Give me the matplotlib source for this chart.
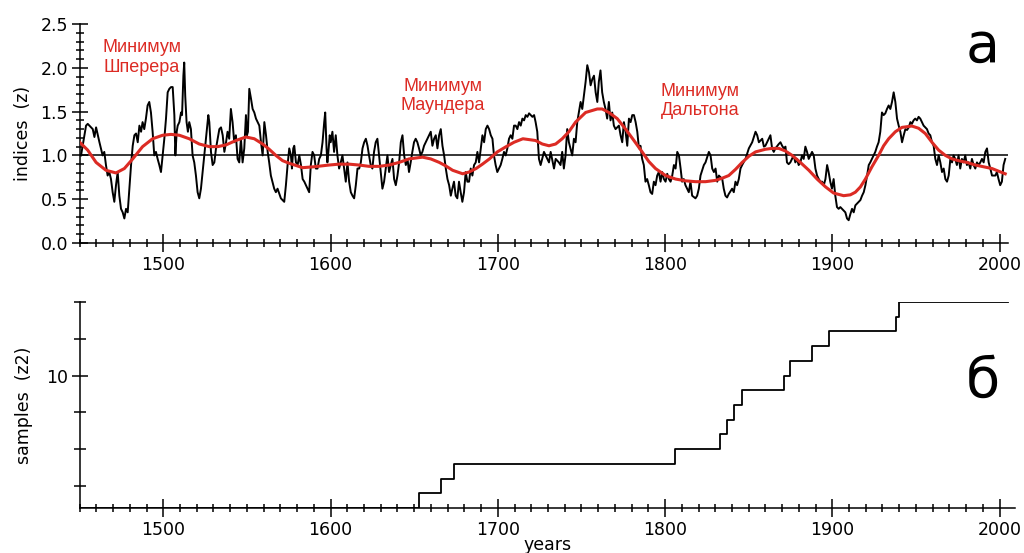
import matplotlib
matplotlib.use("Agg")
import matplotlib.pyplot as plt
from matplotlib.ticker import MultipleLocator, FormatStrFormatter

# ---- panel a: solar activity index (annual, black) ----
index_years = [
    1450.8, 1453.8, 1454.8, 1456.8, 1457.8, 1458.8, 1459.8, 1461.8, 1462.7, 1463.7,
    1464.7, 1465.7, 1466.7, 1467.7, 1468.7, 1469.7, 1470.7, 1471.7, 1472.7, 1473.7,
    1474.7, 1475.7, 1476.7, 1477.7, 1478.7, 1479.7, 1480.7, 1481.7, 1482.7, 1483.7,
    1484.7, 1485.7, 1486.7, 1487.6, 1488.6, 1489.6, 1490.6, 1491.6, 1492.6, 1493.6,
    1494.6, 1495.6, 1496.6, 1497.6, 1498.6, 1499.6, 1500.6, 1501.6, 1502.6, 1503.6,
    1504.6, 1505.6, 1506.6, 1507.2, 1508.0, 1508.6, 1509.6, 1510.6, 1511.2, 1512.0,
    1512.5, 1513.1, 1513.9, 1514.7, 1515.5, 1516.5, 1517.5, 1518.5, 1519.5, 1520.5,
    1521.5, 1522.5, 1523.5, 1524.5, 1525.5, 1526.9, 1527.5, 1528.5, 1529.5, 1530.5,
    1531.5, 1532.5, 1533.5, 1534.5, 1535.5, 1536.5, 1537.5, 1538.4, 1539.4, 1540.4,
    1541.4, 1542.4, 1543.4, 1544.4, 1545.4, 1546.4, 1547.4, 1548.4, 1549.4, 1550.0,
    1550.6, 1551.4, 1552.4, 1553.4, 1554.4, 1555.4, 1556.4, 1557.4, 1558.4, 1559.4,
    1560.4, 1561.4, 1562.4, 1563.3, 1564.3, 1566.3, 1567.3, 1568.3, 1570.3, 1572.3,
    1573.3, 1574.3, 1575.3, 1576.3, 1576.9, 1577.7, 1578.3, 1579.3, 1580.3, 1581.3,
    1582.3, 1583.3, 1584.3, 1586.2, 1587.2, 1588.2, 1589.2, 1590.2, 1591.2, 1592.2,
    1593.2, 1594.2, 1595.2, 1596.2, 1596.8, 1597.6, 1598.1, 1598.7, 1599.5, 1600.1,
    1601.1, 1602.1, 1603.1, 1604.1, 1605.1, 1606.1, 1607.1, 1608.1, 1609.1, 1610.1,
    1611.1, 1612.1, 1613.1, 1614.1, 1615.1, 1616.1, 1617.1, 1618.1, 1619.1, 1620.1,
    1621.1, 1622.1, 1623.0, 1624.0, 1625.0, 1626.0, 1627.0, 1628.0, 1629.0, 1630.0,
    1631.0, 1632.0, 1633.0, 1634.0, 1635.0, 1636.0, 1637.0, 1638.0, 1639.0, 1640.0,
    1641.0, 1642.0, 1643.0, 1644.0, 1645.0, 1646.0, 1646.9, 1647.9, 1648.9, 1649.9,
    1650.9, 1651.9, 1652.9, 1653.9, 1654.9, 1655.9, 1656.9, 1657.9, 1658.9, 1659.9,
    1660.9, 1661.9, 1662.9, 1663.9, 1664.9, 1665.9, 1666.9, 1667.9, 1668.9, 1669.9,
    1670.9, 1671.9, 1672.8, 1673.8, 1674.8, 1675.8, 1676.8, 1677.8, 1678.8, 1679.8,
    1680.8, 1681.8, 1682.8, 1683.8, 1684.8, 1685.8, 1686.8, 1687.8, 1688.8, 1689.8,
    1690.8, 1691.8, 1692.8, 1693.8, 1694.8, 1695.8, 1696.8, 1697.7, 1698.7, 1699.7,
    1700.7, 1701.7, 1702.7, 1703.7, 1704.7, 1705.7, 1706.7, 1707.7, 1708.7, 1709.7,
    1710.7, 1711.7, 1712.7, 1713.7, 1714.7, 1715.7, 1716.7, 1717.7, 1718.7, 1719.7,
    1720.7, 1721.7, 1722.6, 1723.6, 1724.6, 1725.6, 1727.6, 1728.6, 1730.6, 1731.6,
    1733.6, 1734.6, 1736.5, 1737.5, 1738.5, 1739.5, 1740.5, 1741.5, 1742.5, 1744.5,
    1745.5, 1746.5, 1747.5, 1749.5, 1750.5, 1752.5, 1753.5, 1754.5, 1755.5, 1756.5,
    1757.5, 1758.5, 1759.5, 1760.4, 1761.4, 1762.4, 1763.4, 1764.4, 1765.4, 1766.4,
    1767.4, 1768.4, 1769.4, 1770.4, 1772.4, 1773.4, 1774.4, 1775.4, 1776.4, 1777.4,
    1778.4, 1779.4, 1780.4, 1781.4, 1782.4, 1783.4, 1784.4, 1785.3, 1786.3, 1787.3,
    1788.3, 1789.3, 1790.3, 1791.3, 1792.3, 1793.3, 1794.3, 1795.3, 1796.3, 1797.3,
    1798.3, 1799.3, 1800.3, 1801.3, 1802.3, 1803.3, 1804.3, 1805.3, 1806.3, 1807.3,
    1808.3, 1809.3, 1810.2, 1811.2, 1812.2, 1813.2, 1814.2, 1815.2, 1816.2, 1818.2,
    1819.2, 1820.2, 1821.2, 1823.2, 1824.2, 1826.2, 1827.2, 1828.2, 1829.2, 1830.2,
    1831.2, 1832.2, 1834.2, 1835.1, 1836.1, 1837.1, 1838.1, 1840.1, 1841.1, 1842.1,
    1843.1, 1844.1, 1845.1, 1846.1, 1848.1, 1850.1, 1852.1, 1854.1, 1855.1, 1856.1,
    1858.1, 1859.1, 1860.0, 1862.0, 1863.0, 1864.0, 1865.0, 1866.0, 1868.0, 1869.0,
    1870.0, 1871.0, 1872.0, 1872.9, 1873.9, 1874.9, 1875.9, 1876.9, 1877.9, 1878.9,
    1879.9, 1880.9, 1881.9, 1882.9, 1883.9, 1884.9, 1885.9, 1886.9, 1887.9, 1888.9,
    1889.9, 1890.9, 1891.9, 1892.9, 1893.9, 1894.9, 1895.9, 1896.9, 1897.8, 1898.8,
    1899.8, 1900.8, 1901.8, 1902.8, 1903.8, 1904.8, 1905.8, 1906.8, 1907.8, 1908.8,
    1909.8, 1910.8, 1911.8, 1912.8, 1913.8, 1914.8, 1915.8, 1916.8, 1917.8, 1918.8,
    1919.8, 1920.8, 1921.8, 1922.7, 1923.7, 1924.7, 1925.7, 1926.7, 1927.7, 1928.7,
    1929.7, 1930.7, 1931.7, 1932.7, 1933.7, 1934.7, 1935.7, 1936.7, 1937.7, 1938.7,
    1939.7, 1940.7, 1941.7, 1942.7, 1943.7, 1944.7, 1945.7, 1946.7, 1947.6, 1948.6,
    1949.6, 1950.6, 1951.6, 1952.6, 1953.6, 1954.6, 1955.6, 1956.6, 1957.6, 1958.6,
    1959.6, 1960.6, 1961.6, 1962.6, 1963.6, 1964.6, 1965.6, 1966.6, 1967.6, 1968.6,
    1969.6, 1970.6, 1971.6, 1972.5, 1973.5, 1974.5, 1975.5, 1976.5, 1977.5, 1978.5,
    1979.5, 1980.5, 1981.5, 1982.5, 1983.5, 1984.5, 1985.5, 1986.5, 1987.5, 1988.5,
    1989.5, 1990.5, 1991.5, 1992.5, 1993.5, 1994.5, 1995.5, 1996.5, 1997.5, 1998.4,
    1999.4, 2000.4, 2001.4, 2002.4, 2003.4,
]
index_values = [
    1.00, 1.34, 1.36, 1.32, 1.30, 1.21, 1.32, 1.15, 1.08, 1.00,
    1.04, 0.89, 0.77, 0.81, 0.73, 0.58, 0.47, 0.66, 0.81, 0.54,
    0.39, 0.35, 0.28, 0.39, 0.35, 0.62, 0.89, 1.11, 1.23, 1.25,
    1.15, 1.34, 1.27, 1.38, 1.30, 1.42, 1.57, 1.61, 1.49, 1.27,
    1.00, 1.04, 0.96, 0.89, 0.81, 1.00, 1.19, 1.42, 1.72, 1.76,
    1.78, 1.78, 1.46, 1.00, 1.27, 1.34, 1.38, 1.49, 1.46, 1.91,
    2.06, 1.68, 1.38, 1.27, 1.38, 1.30, 1.00, 0.92, 0.77, 0.58,
    0.51, 0.62, 0.81, 1.00, 1.19, 1.46, 1.38, 1.04, 0.89, 0.92,
    1.08, 1.19, 1.30, 1.32, 1.23, 1.04, 1.15, 1.27, 1.19, 1.53,
    1.38, 1.15, 1.23, 0.96, 0.92, 1.19, 0.92, 1.08, 1.46, 1.23,
    1.27, 1.76, 1.65, 1.53, 1.49, 1.42, 1.38, 1.34, 1.15, 1.00,
    1.38, 1.23, 1.04, 0.92, 0.77, 0.62, 0.58, 0.62, 0.51, 0.47,
    0.66, 0.89, 1.08, 1.00, 0.85, 1.08, 1.11, 0.92, 0.89, 1.00,
    0.89, 0.73, 0.70, 0.62, 0.58, 0.89, 1.04, 1.00, 0.85, 0.85,
    0.96, 1.00, 1.15, 1.38, 1.49, 1.08, 0.92, 1.04, 1.23, 1.15,
    1.27, 1.04, 1.23, 1.00, 0.85, 0.92, 1.00, 0.85, 0.70, 0.92,
    0.70, 0.58, 0.54, 0.51, 0.66, 0.85, 0.85, 0.92, 1.08, 1.15,
    1.19, 1.11, 1.00, 0.89, 0.85, 1.04, 1.15, 1.19, 1.00, 0.81,
    0.62, 0.70, 0.85, 1.00, 0.81, 0.89, 0.96, 0.73, 0.66, 0.77,
    0.92, 1.15, 1.23, 1.00, 0.89, 0.96, 0.81, 0.92, 1.04, 1.15,
    1.19, 1.15, 1.08, 1.00, 1.04, 1.11, 1.15, 1.19, 1.23, 1.27,
    1.11, 1.19, 1.23, 1.08, 1.23, 1.30, 1.11, 1.00, 0.85, 0.73,
    0.66, 0.54, 0.62, 0.70, 0.54, 0.51, 0.70, 0.58, 0.47, 0.58,
    0.81, 0.70, 0.70, 0.85, 0.77, 0.89, 0.92, 1.04, 0.92, 1.08,
    1.23, 1.15, 1.30, 1.34, 1.30, 1.23, 1.19, 1.00, 0.89, 0.81,
    0.85, 0.89, 0.96, 1.04, 1.00, 1.08, 1.19, 1.23, 1.19, 1.34,
    1.34, 1.30, 1.38, 1.34, 1.42, 1.40, 1.46, 1.44, 1.48, 1.46,
    1.44, 1.46, 1.38, 1.27, 0.96, 0.89, 1.04, 1.00, 0.92, 1.04,
    0.85, 0.96, 0.92, 0.89, 1.04, 0.85, 1.00, 1.30, 1.15, 1.00,
    1.19, 1.15, 1.38, 1.61, 1.53, 1.84, 2.03, 1.95, 1.80, 1.87,
    1.91, 1.72, 1.61, 1.84, 1.97, 1.72, 1.61, 1.53, 1.42, 1.61,
    1.40, 1.49, 1.34, 1.30, 1.34, 1.23, 1.15, 1.38, 1.27, 1.11,
    1.42, 1.38, 1.46, 1.46, 1.38, 1.27, 1.08, 1.11, 0.96, 0.89,
    0.70, 0.73, 0.66, 0.58, 0.56, 0.70, 0.66, 0.77, 0.81, 0.70,
    0.81, 0.73, 0.70, 0.79, 0.73, 0.70, 0.77, 0.89, 0.85, 1.04,
    1.00, 0.85, 0.70, 0.73, 0.66, 0.62, 0.58, 0.70, 0.54, 0.51,
    0.54, 0.62, 0.77, 0.89, 0.92, 1.04, 1.00, 0.85, 0.81, 0.85,
    0.70, 0.77, 0.73, 0.62, 0.54, 0.52, 0.56, 0.62, 0.58, 0.70,
    0.66, 0.73, 0.85, 0.89, 0.96, 1.08, 1.15, 1.27, 1.23, 1.15,
    1.19, 1.10, 1.11, 1.19, 1.23, 1.08, 1.04, 1.08, 1.13, 1.15,
    1.11, 1.08, 1.10, 0.92, 0.90, 0.92, 0.96, 1.00, 0.92, 0.96,
    0.89, 0.92, 1.00, 0.96, 1.10, 1.04, 0.96, 1.00, 1.04, 1.00,
    0.85, 0.77, 0.73, 0.70, 0.70, 0.66, 0.73, 0.89, 0.81, 0.70,
    0.62, 0.73, 0.54, 0.41, 0.39, 0.41, 0.39, 0.37, 0.35, 0.28,
    0.26, 0.33, 0.39, 0.35, 0.43, 0.45, 0.47, 0.49, 0.54, 0.58,
    0.66, 0.77, 0.89, 0.92, 0.96, 1.00, 1.04, 1.10, 1.15, 1.27,
    1.49, 1.46, 1.48, 1.53, 1.57, 1.53, 1.61, 1.72, 1.61, 1.42,
    1.34, 1.27, 1.15, 1.23, 1.30, 1.29, 1.32, 1.38, 1.36, 1.40,
    1.42, 1.40, 1.44, 1.42, 1.38, 1.34, 1.32, 1.30, 1.25, 1.23,
    1.15, 1.11, 0.96, 0.89, 1.00, 0.92, 0.81, 0.85, 0.73, 0.70,
    0.77, 0.96, 0.92, 1.00, 0.96, 0.89, 1.00, 0.85, 0.96, 0.92,
    1.00, 0.89, 0.92, 0.85, 0.96, 0.89, 0.85, 0.92, 0.89, 0.92,
    0.96, 0.92, 1.04, 1.08, 0.92, 0.85, 0.77, 0.77, 0.77, 0.81,
    0.73, 0.66, 0.70, 0.89, 0.96,
]

# ---- panel a: smoothed index (red) ----
smooth_years = [
    1450, 1454.8, 1459.8, 1465.7, 1471.7, 1476.7, 1481.7, 1487.6, 1493.6, 1499.6,
    1504.6, 1509.6, 1515.5, 1521.5, 1527.5, 1532.5, 1537.5, 1543.4, 1549.4, 1554.4,
    1559.4, 1563.3, 1567.3, 1571.3, 1575.3, 1583.3, 1590, 1599.1, 1605, 1611.1,
    1617, 1623, 1629, 1635, 1641, 1646.9, 1655, 1659.9, 1665, 1668.9,
    1673, 1679, 1682.8, 1687, 1690.8, 1695, 1699.7, 1705, 1709.7, 1715,
    1722.6, 1726.6, 1730.6, 1734.6, 1738.5, 1742.5, 1746.5, 1752.5, 1759.5, 1762.4,
    1766.4, 1771.4, 1776.4, 1781.4, 1786.3, 1790.3, 1794.3, 1800.3, 1806.3, 1812.2,
    1818.2, 1824.2, 1830.2, 1834.2, 1838.1, 1842.1, 1846.1, 1850.1, 1854.1, 1860,
    1864, 1868, 1872, 1876, 1880.9, 1886, 1890.9, 1896, 1900.8, 1906.8,
    1910.8, 1913.8, 1916.8, 1919.8, 1923.7, 1927.7, 1930.7, 1933.7, 1937.7, 1941.7,
    1947.6, 1951.6, 1955.6, 1959.6, 1963.6, 1967.6, 1971.6, 1975.5, 1980.5, 1985.5,
    1990.5, 1995.5, 1999.4, 2003.4,
]
smooth_values = [
    1.15, 1.06, 0.92, 0.83, 0.80, 0.85, 0.96, 1.10, 1.19, 1.23,
    1.24, 1.23, 1.19, 1.13, 1.10, 1.10, 1.12, 1.17, 1.21, 1.19,
    1.13, 1.07, 1.00, 0.94, 0.91, 0.86, 0.87, 0.89, 0.90, 0.90,
    0.89, 0.875, 0.875, 0.89, 0.92, 0.96, 0.98, 0.96, 0.92, 0.88,
    0.83, 0.79, 0.81, 0.85, 0.90, 0.96, 1.04, 1.10, 1.15, 1.19,
    1.17, 1.13, 1.11, 1.13, 1.19, 1.27, 1.38, 1.49, 1.53, 1.53,
    1.49, 1.42, 1.30, 1.17, 1.04, 0.93, 0.85, 0.77, 0.73, 0.71,
    0.70, 0.70, 0.715, 0.74, 0.77, 0.84, 0.92, 0.99, 1.04, 1.07,
    1.08, 1.08, 1.05, 1.00, 0.92, 0.83, 0.73, 0.64, 0.57, 0.54,
    0.55, 0.58, 0.64, 0.73, 0.87, 1.00, 1.11, 1.19, 1.27, 1.32,
    1.335, 1.31, 1.25, 1.15, 1.06, 1.00, 0.96, 0.94, 0.92, 0.89,
    0.87, 0.85, 0.82, 0.79,
]

# ---- panel b: number of samples (step function) ----
sample_change_years = [1450, 1653, 1666, 1674, 1806, 1833, 1837, 1841, 1846,
                       1871, 1875, 1888, 1898, 1938, 1940]
sample_counts = [1, 2, 3, 4, 5, 6, 7, 8, 9, 10, 11, 12, 13, 14, 15]
sample_end_year = 2005

minima_labels = ["Минимум\nШперера", "Минимум\nМаундера", "Минимум\nДальтона"]
minima_x = [1487, 1667, 1821]
minima_y = [2.12, 1.68, 1.62]

RED = "#dc2b24"
W, H = 1024, 553

fig = plt.figure(figsize=(W / 100, H / 100), dpi=100)
ax_a = fig.add_axes([79.7 / W, 1 - 243 / H, 928.2 / W, 219 / H])
ax_b = fig.add_axes([79.7 / W, 1 - 508 / H, 934.9 / W, 206 / H])

for ax in (ax_a, ax_b):
    for side in ("top", "right"):
        ax.spines[side].set_visible(False)
    for side in ("left", "bottom"):
        ax.spines[side].set_linewidth(1.1)
    ax.xaxis.set_major_locator(MultipleLocator(100))
    ax.xaxis.set_minor_locator(MultipleLocator(10))
    ax.tick_params(axis="x", which="major", direction="inout", length=13,
                   width=1.1, labelsize=12.5, pad=3)
    ax.tick_params(axis="x", which="minor", direction="inout", length=6, width=1.1)
    ax.tick_params(axis="y", labelsize=12.5)

# panel a
ax_a.plot(index_years, index_values, color="black", lw=1.4, zorder=3)
ax_a.plot(smooth_years, smooth_values, color=RED, lw=2.2, zorder=4)
ax_a.axhline(1.0, color="black", lw=1.1, zorder=2)
ax_a.set_xlim(1450, 2005)
ax_a.set_ylim(0, 2.5)
ax_a.yaxis.set_major_locator(MultipleLocator(0.5))
ax_a.yaxis.set_minor_locator(MultipleLocator(0.1))
ax_a.yaxis.set_major_formatter(FormatStrFormatter("%.1f"))
ax_a.tick_params(axis="y", which="major", direction="inout", length=11, width=1.1, pad=3)
ax_a.tick_params(axis="y", which="minor", direction="inout", length=6, width=1.1)
ax_a.set_ylabel("indices  (z)", fontsize=12.5, labelpad=6)

for label, x, y in zip(minima_labels, minima_x, minima_y):
    ax_a.text(x, y, label, color=RED, fontsize=13, ha="center", va="center",
              family="Liberation Sans", linespacing=1.2)

fig.text(983 / W, 1 - 47 / H, "а", fontsize=40, ha="center", va="center")

# panel b
step_x = sample_change_years + [sample_end_year]
step_y = sample_counts + [sample_counts[-1]]
ax_b.step(step_x, step_y, where="post", color="black", lw=1.3)
ax_b.set_xlim(1450, 2009)
ax_b.set_ylim(1, 15)
ax_b.set_yticks([10])
ax_b.set_yticks([2.5, 5, 7.5, 12.5, 15], minor=True)
ax_b.tick_params(axis="y", which="major", direction="inout", length=12, width=1.1, pad=2)
ax_b.tick_params(axis="y", which="minor", direction="inout", length=9, width=1.1)
ax_b.set_ylabel("samples  (z2)", fontsize=12.5, labelpad=10)
ax_b.set_xlabel("years", fontsize=12.5, labelpad=-2)

fig.text(983 / W, 1 - 382 / H, "б", fontsize=40, ha="center", va="center")

fig.savefig("out.png", dpi=100)
